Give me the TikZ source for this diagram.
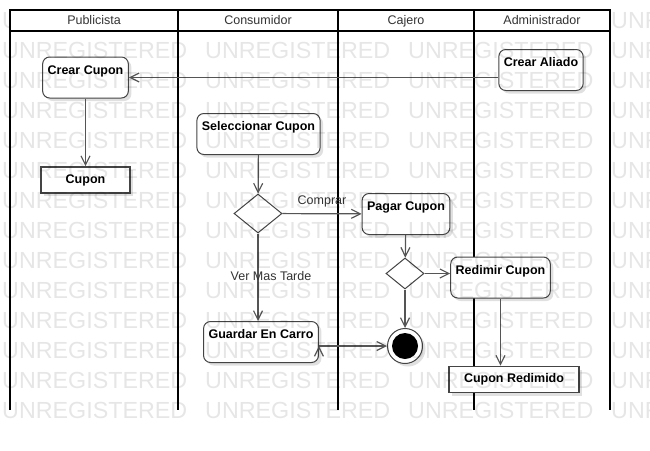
\documentclass[tikz,border=0pt]{standalone}
\usepackage{fontspec}
\setmainfont{Liberation Sans}
\usetikzlibrary{arrows.meta,shapes.geometric,shadows}
\definecolor{boxgray}{HTML}{444444}
\definecolor{linegray}{HTML}{555555}
\definecolor{txtgray}{HTML}{333333}
\definecolor{wmgray}{HTML}{E6E6E6}

\begin{document}
\begin{tikzpicture}[x=1pt,y=-1pt,
 lane/.style={line width=2pt,black},
 head/.style={font=\fontsize{12.5}{15}\selectfont,text=txtgray,text height=9pt,text depth=2.5pt},
 wm/.style={font=\fontsize{23.3}{24}\selectfont,text=wmgray,inner sep=0pt,anchor=west},
 act/.style={draw=boxgray,fill=white,line width=1pt,rounded corners=7pt,inner xsep=5pt,inner ysep=4pt,
  text height=13pt,text depth=20pt,font=\fontsize{12.5}{15}\selectfont\bfseries,
  drop shadow={shadow xshift=3pt,shadow yshift=-3pt,fill=black,opacity=.12}},
 obj/.style={draw=boxgray,fill=white,line width=1.6pt,minimum height=26pt,inner sep=0pt,
  font=\fontsize{12.5}{15}\selectfont\bfseries,
  drop shadow={shadow xshift=3pt,shadow yshift=-3pt,fill=black,opacity=.12}},
 choice/.style={diamond,draw=boxgray,fill=white,line width=1pt,inner sep=0pt},
 final/.style={circle,draw=boxgray,fill=white,line width=1pt,minimum size=35pt,inner sep=0pt,
  drop shadow={shadow xshift=3pt,shadow yshift=-3pt,fill=black,opacity=.12},
  path picture={\fill[black] (path picture bounding box.center) circle (13pt);}},
 lbl/.style={font=\fontsize{12.5}{15}\selectfont,text=txtgray,text height=9pt,text depth=2.5pt},
 flow/.style={draw=linegray,line width=1.2pt,-{Straight Barb[length=9pt,width=9pt]}}]
\useasboundingbox (0,0) rectangle (650,450);

% swimlanes
\draw[lane,fill=white] (10,10) rectangle (610,31);
\foreach \x in {10,178,338,474,610}
 \draw[lane] (\x,10) -- (\x,410);
\node[head] (h_pub) at (94,21) {Publicista};
\node[head] (h_con) at (258,21) {Consumidor};
\node[head] (h_caj) at (406,21) {Cajero};
\node[head] (h_adm) at (542,21) {Administrador};

% actions
\node[act] (a_crear) at (85.5,77.5) {Crear Cupon};
\node[obj,minimum width=89pt] (o_cupon) at (85.5,180) {Cupon};
\node[act] (a_selec) at (258.5,134) {Seleccionar Cupon};
\node[act] (a_aliado) at (541,70) {Crear Aliado};
\node[choice,minimum width=48pt,minimum height=39pt] (d_compra) at (258,213.5) {};
\node[act] (a_pagar) at (406,214) {Pagar Cupon};
\node[choice,minimum width=38pt,minimum height=31pt] (d_pago) at (405,273.5) {};
\node[act] (a_redimir) at (500.5,277.5) {Redimir Cupon};
\node[act] (a_guardar) at (261,342) {Guardar En Carro};
\node[final] (fin) at (405,346) {};
\node[obj,minimum width=130pt] (o_redimido) at (514,379.5) {Cupon Redimido};

\path[flow]
 (a_aliado.west |- a_crear) edge (a_crear)
 (a_crear) edge (o_cupon)
 (a_selec) edge (d_compra)
 (d_compra) edge node[lbl,above=3pt] {Comprar} (a_pagar)
 (d_compra) edge node[lbl,xshift=13pt] {Ver Mas Tarde} (d_compra |- a_guardar.north)
 (a_pagar) edge (d_pago)
 (d_pago) edge (d_pago -| a_redimir.west)
 (d_pago) edge (fin)
 (a_guardar.east |- fin) edge (fin)
 (a_redimir) edge (a_redimir |- o_redimido.north);

% watermark
\begin{scope}[blend mode=multiply,even odd rule]
 \clip (0,0) rectangle (650,450) (10,10) rectangle (610,31);
 \foreach \r in {0,...,13}
  \foreach \k in {0,...,3}
   \node[wm] (wm-\r-\k) at (2+203*\k,20+30*\r) {UNREGISTERED};
\end{scope}
\end{tikzpicture}
\end{document}
